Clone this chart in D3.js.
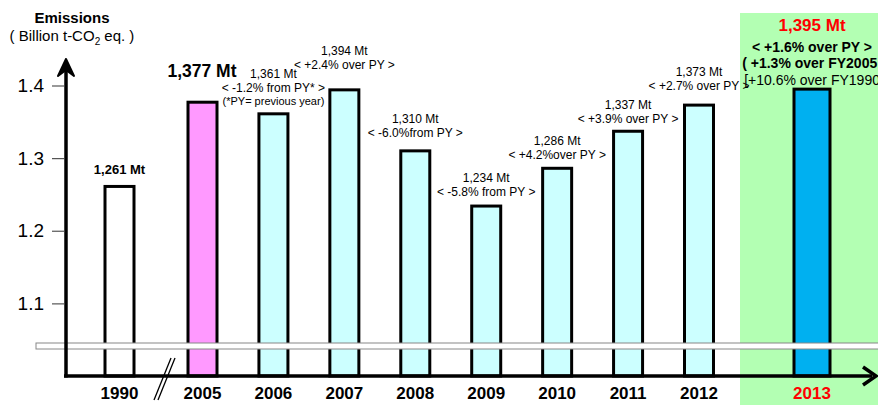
<!DOCTYPE html>
<html>
<head>
<meta charset="utf-8">
<script src="https://cdn.jsdelivr.net/npm/d3@7"></script>
<style>
  body { margin: 0; background: #fff; }
  svg { display: block; font-family: Arial, "Liberation Sans", sans-serif; }
</style>
</head>
<body>
<svg id="chart" width="878" height="405"></svg>
<script>
// chart values (Billion t-CO2 eq.)
var years = ['1990', '2005', '2006', '2007', '2008', '2009', '2010', '2011', '2012', '2013'];
var emissions = [1.261, 1.377, 1.361, 1.394, 1.310, 1.234, 1.286, 1.337, 1.373, 1.395];
var mtLabels = ['1,261 Mt', '1,377 Mt', '1,361 Mt', '1,394 Mt', '1,310 Mt', '1,234 Mt', '1,286 Mt', '1,337 Mt', '1,373 Mt', '1,395 Mt'];
var changeLabels = ['', '', '< -1.2% from PY* >', '< +2.4% over PY >', '< -6.0%from PY >',
  '< -5.8% from PY >', '< +4.2%over PY >', '< +3.9% over PY >', '< +2.7% over PY >', '<  +1.6% over PY >'];
var yTicks = [1.1, 1.2, 1.3, 1.4];

var svg = d3.select('#chart');
var baseY = 376;

var y = d3.scaleLinear().domain([1.0, 1.4]).range([baseY, 85.5]);

// 2005-2012 evenly spaced, 1990 and 2013 set apart
var xMid = d3.scalePoint().domain(years.slice(1, 9)).range([202.5, 699]);
var x = function(yr) {
  if (yr === '1990') { return xMid('2005') - 83; }
  if (yr === '2013') { return xMid('2012') + 113; }
  return xMid(yr);
};
var barW = function(yr) { return yr === '2013' ? 36 : 29; };
var fillFor = function(yr) {
  if (yr === '1990') { return '#ffffff'; }
  if (yr === '2005') { return '#ff99ff'; }
  if (yr === '2013') { return '#00b0f0'; }
  return '#ccffff';
};

// green highlight panel for 2013
svg.append('rect')
  .attr('x', 740).attr('y', 13).attr('width', 140).attr('height', 395)
  .attr('fill', '#b3ffb3');

// bars
var data = years.map(function(yr, i) { return { year: yr, v: emissions[i], i: i }; });
svg.selectAll('.bar').data(data).enter().append('rect')
  .classed('bar', true)
  .attr('x', function(d) { return x(d.year) - barW(d.year) / 2; })
  .attr('y', function(d) { return y(d.v); })
  .attr('width', function(d) { return barW(d.year); })
  .attr('height', function(d) { return baseY - y(d.v); })
  .attr('fill', function(d) { return fillFor(d.year); })
  .attr('stroke', '#000')
  .attr('stroke-width', 3);

// axis break band
svg.append('rect')
  .attr('x', 36).attr('y', 343).attr('width', 850).attr('height', 6)
  .attr('fill', '#fff').attr('stroke', '#888').attr('stroke-width', 1);

// y axis
svg.append('line')
  .attr('x1', 66).attr('x2', 66).attr('y1', 70).attr('y2', baseY + 1.5)
  .attr('stroke', '#000').attr('stroke-width', 3.5);
svg.append('path')
  .attr('d', 'M66,59 L58,76 L66,70 L74,76 Z')
  .attr('fill', '#000').attr('stroke', '#000').attr('stroke-width', 2).attr('stroke-linejoin', 'round');

var yAxis = d3.axisLeft(y).tickValues(yTicks).tickSize(12).tickPadding(8)
  .tickFormat(d3.format('.1f'));
var gy = svg.append('g').attr('transform', 'translate(64,0)').call(yAxis);
gy.select('.domain').remove();
gy.selectAll('.tick line').attr('stroke', '#555').attr('stroke-width', 1.2);
gy.selectAll('.tick text').attr('font-size', 19).attr('fill', '#000')
  .attr('font-family', 'Arial, "Liberation Sans", sans-serif');

// x axis
svg.append('line')
  .attr('x1', 64).attr('x2', 872).attr('y1', baseY).attr('y2', baseY)
  .attr('stroke', '#000').attr('stroke-width', 3.5);
svg.append('path')
  .attr('d', 'M863,367 L876,376 L863,385')
  .attr('fill', 'none').attr('stroke', '#000').attr('stroke-width', 3.5);

// break marks on x axis
[0, 4].forEach(function(off) {
  svg.append('line')
    .attr('x1', 171 + off).attr('y1', 358).attr('x2', 154 + off).attr('y2', 400)
    .attr('stroke', '#000').attr('stroke-width', 1.3);
});

// year labels
svg.selectAll('.year').data(data).enter().append('text')
  .classed('year', true)
  .attr('x', function(d) { return x(d.year); })
  .attr('y', 399)
  .attr('text-anchor', 'middle')
  .attr('font-size', 17).attr('font-weight', 'bold')
  .attr('fill', function(d) { return d.year === '2013' ? '#ff0000' : '#000'; })
  .text(function(d) { return d.year; });

// title
svg.append('text').attr('x', 72).attr('y', 23).attr('text-anchor', 'middle')
  .attr('font-size', 15).attr('font-weight', 'bold').text('Emissions');
var sub = svg.append('text').attr('x', 72).attr('y', 41).attr('text-anchor', 'middle')
  .attr('font-size', 15);
sub.append('tspan').text('( Billion t-CO');
sub.append('tspan').attr('font-size', 10).attr('dy', 4).text('2');
sub.append('tspan').attr('dy', -4).text(' eq. )');

// value annotations
function note(txt, cx, cy, size, weight, color) {
  svg.append('text').attr('x', cx).attr('y', cy).attr('text-anchor', 'middle')
    .attr('font-size', size).attr('font-weight', weight || 'normal')
    .attr('fill', color || '#000').text(txt);
}

note(mtLabels[0], x('1990'), 174, 13, 'bold');
note(mtLabels[1], x('2005') - 0.5, 77, 17.5, 'bold');

// how far above its bar top each two-line note sits
var lift = { '2006': 36, '2007': 35, '2008': 28, '2009': 24, '2010': 23, '2011': 22, '2012': 29 };
data.slice(2, 9).forEach(function(d) {
  var cx = x(d.year);
  var top = y(d.v);
  note(mtLabels[d.i], cx, top - lift[d.year], 12);
  note(changeLabels[d.i], cx, top - lift[d.year] + 14, 12);
});
note('(*PY= previous year)', x('2006'), y(emissions[2]) - 9, 11);

// 2013 highlight text
var c13 = x('2013');
note(mtLabels[9], c13, 31, 17, 'bold', '#ff0000');
note(changeLabels[9], c13, 52, 14, 'bold');
note('( +1.3% over FY2005 )', c13 + 2, 68, 14, 'bold');
note('[+10.6% over FY1990]', c13 + 2, 85, 14);
</script>
</body>
</html>
